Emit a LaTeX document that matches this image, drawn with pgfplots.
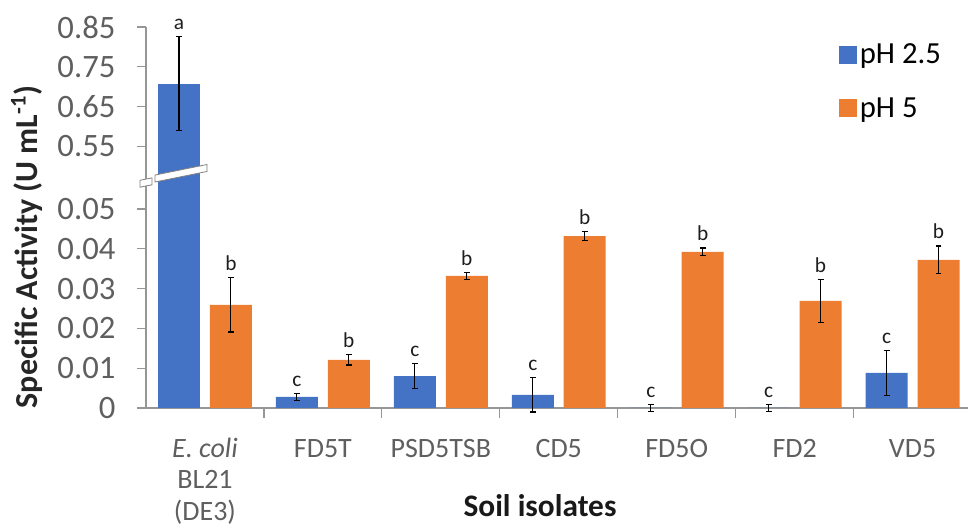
\documentclass[border=0pt]{standalone}
\usepackage{pgfplots}
\pgfplotsset{compat=1.18}
\usepackage{pgfplotstable}
\usepackage{fontspec}
\setmainfont{Carlito}
\definecolor{barblue}{HTML}{4472C4}
\definecolor{barorange}{HTML}{ED7D31}
\definecolor{axisgray}{RGB}{150,150,150}
\definecolor{labelgray}{RGB}{95,95,95}
\definecolor{lettergray}{RGB}{30,30,30}

% xb, xo: bar centres of the two series within each category
\pgfplotstableread{
x xb xo blue blueerr orange orangeerr
0 -0.22 0.22 0.7075 0.118 0.0259 0.0068
1 0.78 1.22 0.0028 0.0008 0.0121 0.0013
2 1.78 2.22 0.0080 0.0031 0.0332 0.0009
3 2.78 3.22 0.0033 0.0043 0.0432 0.0012
4 3.78 4.22 0.0000 0.0009 0.0392 0.0010
5 4.78 5.22 0.0000 0.0008 0.0269 0.0054
6 5.78 6.22 0.0088 0.0056 0.0372 0.0035
}\datatable

\tikzset{letter/.style={font=\fontsize{16}{18}\selectfont, text=lettergray, anchor=south, inner sep=0pt, yshift=5pt}}

\begin{document}
\begin{tikzpicture}
\useasboundingbox (-109.5pt,-90pt) rectangle (616.5pt,306pt);
\pgfplotsset{common/.style={
  scale only axis, width=616.5pt, xmin=-0.5, xmax=6.47,
  axis y line*=left,
  axis line style={axisgray, line width=0.9pt},
  ytick style={draw=axisgray, line width=0.9pt},
  tick align=outside, major tick length=6.75pt,
  minor tick num=0, scaled y ticks=false, scaled x ticks=false,
  yticklabel style={font=\fontsize{24.5}{28}\selectfont, text=labelgray, inner sep=0pt, anchor=east, xshift=-16pt},
  clip mode=individual,
  error bars/error bar style={black, line width=0.8pt},
  error bars/error mark options={rotate=90, black, line width=0.8pt, mark size=2.2pt},
}}

% lower part
\begin{axis}[common, at={(0pt,0pt)}, anchor=south west,
  height=169.5pt, ymin=0, ymax=0.05678, clip=false,
  ytick={0,0.01,0.02,0.03,0.04,0.05},
  yticklabels={0,0.01,0.02,0.03,0.04,0.05},
  axis x line*=bottom,
  xtick={0,1,2,3,4,5,6},
  xticklabels={{\vphantom{Elb}\textit{E. coli}\\BL21\\(DE3)},{\vphantom{Elb}FD5T},{\vphantom{Elb}PSD5TSB},{\vphantom{Elb}CD5},{\vphantom{Elb}FD5O},{\vphantom{Elb}FD2},{\vphantom{Elb}VD5}},
  xtick style={draw=none},
  xticklabel style={font=\fontsize{21}{23.5}\selectfont, text=labelgray, align=center, anchor=north, inner sep=0pt, yshift=-15.5pt},
  extra x ticks={0.5,1.5,2.5,3.5,4.5,5.5},
  extra x tick labels={},
  extra x tick style={xtick style={draw=axisgray, line width=0.9pt}, major tick length=7.5pt, tick align=outside},
  legend style={at={(0.843,1.625)}, anchor=north west, draw=none, fill=none,
    font=\fontsize{23}{26}\selectfont, row sep=20pt, inner sep=0pt,
    nodes={inner sep=2pt}},
  legend cell align=left,
  legend image code/.code={\fill[#1,draw=none] (0pt,-6.75pt) rectangle (13.5pt,6.75pt);},
  /tikz/every even column/.append style={column sep=4pt},
]
\addplot[ybar, bar width=0.356, fill=barblue, draw=none,
  restrict x to domain=0.5:6,
  error bars/.cd, y dir=both, y explicit]
  table[x=xb, y=blue, y error=blueerr] {\datatable};
\addlegendentry{pH 2.5}
\addplot[ybar, bar width=0.356, fill=barorange, draw=none,
  error bars/.cd, y dir=both, y explicit]
  table[x=xo, y=orange, y error=orangeerr] {\datatable};
\addlegendentry{pH 5}
\addplot[ybar, bar width=0.356, fill=barblue, draw=none, forget plot,
  restrict x to domain=-0.5:0, restrict y to domain*=0:0.05678]
  table[x=xb, y=blue] {\datatable};
\node[letter] at (axis cs:0.22,0.0327) {b};
\node[letter] at (axis cs:0.78,0.0036) {c};
\node[letter] at (axis cs:1.22,0.0134) {b};
\node[letter] at (axis cs:1.78,0.0111) {c};
\node[letter] at (axis cs:2.22,0.0341) {b};
\node[letter] at (axis cs:2.78,0.0076) {c};
\node[letter] at (axis cs:3.22,0.0444) {b};
\node[letter] at (axis cs:3.78,0.0009) {c};
\node[letter] at (axis cs:4.22,0.0402) {b};
\node[letter] at (axis cs:4.78,0.0008) {c};
\node[letter] at (axis cs:5.22,0.0323) {b};
\node[letter] at (axis cs:5.78,0.0144) {c};
\node[letter] at (axis cs:6.22,0.0407) {b};
\end{axis}

% upper part
\begin{axis}[common, at={(0pt,169.5pt)}, anchor=south west,
  height=116.25pt, ymin=0.46, ymax=0.85,
  ytick={0.55,0.65,0.75,0.85},
  yticklabels={0.55,0.65,0.75,0.85},
  axis x line=none,
]
\addplot[ybar, bar width=0.356, fill=barblue, draw=none,
  restrict x to domain=-0.5:0,
  error bars/.cd, y dir=both, y explicit]
  table[x=xb, y=blue, y error=blueerr] {\datatable};
\node[letter] at (axis cs:-0.22,0.8255) {a};
\end{axis}

% axis break marks
\filldraw[fill=white, draw=gray, line width=0.6pt]
  (-4.5pt,165.6pt) -- (4.5pt,167.4pt) -- (4.5pt,172.6pt) -- (-4.5pt,170.8pt) -- cycle;
\filldraw[fill=white, draw=gray, line width=0.6pt]
  (6.75pt,169.5pt) -- (45.75pt,177.4pt) -- (45.75pt,182.6pt) -- (6.75pt,174.7pt) -- cycle;

\node[rotate=90, font=\bfseries\fontsize{24}{28}\selectfont, text=black!85] at (-89.25pt,120.75pt)
  {Specific Activity (U mL\textsuperscript{-1})};
\node[anchor=base, font=\bfseries\fontsize{23.5}{27}\selectfont, text=black!90] at (295.5pt,-81.75pt)
  {Soil isolates};
\end{tikzpicture}
\end{document}
